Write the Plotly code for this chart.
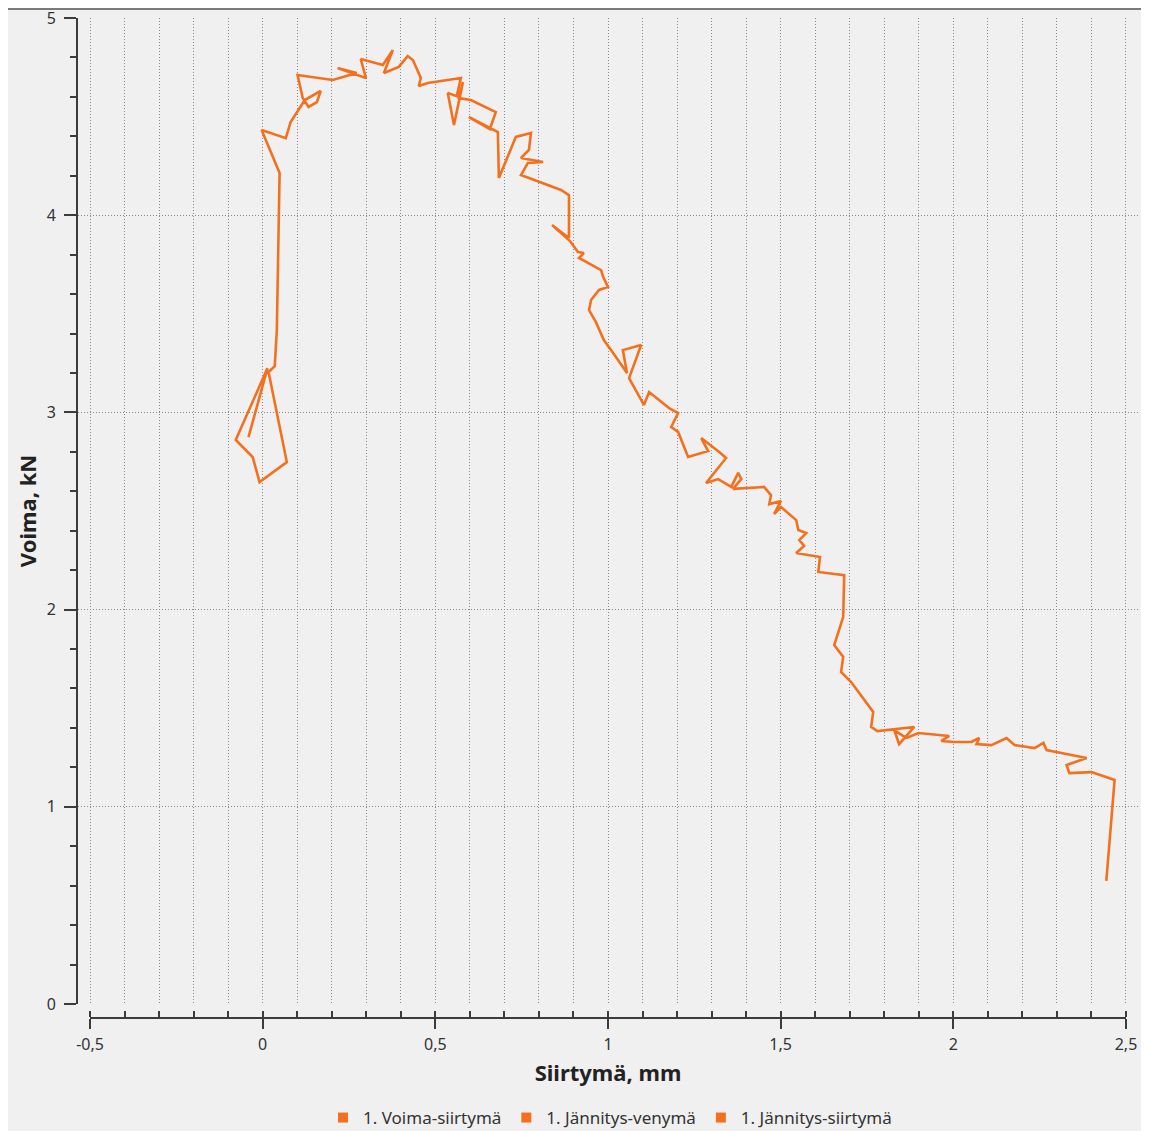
import plotly.graph_objects as go

# Displacement (mm) and force (kN)
siirtyma_mm = [
    -0.041, 0.014, -0.078, -0.029, -0.009, 0.070, 0.017, 0.035, 0.041, 0.046,
    0.049, -0.003, 0.067, 0.081, 0.122, 0.168, 0.157, 0.133, 0.116, 0.101,
    0.203, 0.272, 0.217, 0.299, 0.284, 0.348, 0.377, 0.351, 0.394, 0.420,
    0.435, 0.458, 0.452, 0.478, 0.574, 0.562, 0.536, 0.554, 0.580, 0.568,
    0.603, 0.675, 0.658, 0.597, 0.681, 0.684, 0.733, 0.777, 0.771, 0.748,
    0.812, 0.768, 0.748, 0.864, 0.887, 0.887, 0.838, 0.890, 0.913, 0.930,
    0.916, 0.980, 0.986, 1.000, 0.974, 0.951, 0.945, 0.965, 0.988, 1.023,
    1.055, 1.043, 1.096, 1.061, 1.104, 1.119, 1.177, 1.203, 1.183, 1.203,
    1.232, 1.290, 1.270, 1.322, 1.342, 1.284, 1.319, 1.357, 1.377, 1.386,
    1.362, 1.452, 1.472, 1.467, 1.501, 1.481, 1.501, 1.545, 1.551, 1.574,
    1.554, 1.568, 1.545, 1.614, 1.609, 1.684, 1.681, 1.655, 1.681, 1.675,
    1.704, 1.768, 1.762, 1.780, 1.887, 1.843, 1.829, 1.864, 1.899, 1.988,
    1.965, 2.003, 2.052, 2.075, 2.067, 2.110, 2.154, 2.177, 2.235, 2.261,
    2.270, 2.313, 2.386, 2.328, 2.336, 2.400, 2.467, 2.443,
]
voima_kN = [
    2.875, 3.225, 2.860, 2.774, 2.647, 2.748, 3.205, 3.235, 3.418, 3.824,
    4.214, 4.432, 4.391, 4.473, 4.584, 4.630, 4.574, 4.549, 4.594, 4.711,
    4.686, 4.721, 4.746, 4.696, 4.792, 4.762, 4.838, 4.721, 4.752, 4.807,
    4.787, 4.696, 4.655, 4.670, 4.696, 4.604, 4.620, 4.457, 4.675, 4.594,
    4.584, 4.523, 4.437, 4.498, 4.422, 4.189, 4.397, 4.417, 4.331, 4.290,
    4.270, 4.265, 4.204, 4.128, 4.102, 3.884, 3.950, 3.869, 3.813, 3.808,
    3.783, 3.722, 3.687, 3.636, 3.621, 3.570, 3.519, 3.458, 3.367, 3.281,
    3.200, 3.316, 3.342, 3.174, 3.038, 3.103, 3.022, 2.997, 2.926, 2.901,
    2.774, 2.804, 2.870, 2.799, 2.769, 2.642, 2.662, 2.622, 2.693, 2.662,
    2.612, 2.622, 2.581, 2.535, 2.551, 2.485, 2.520, 2.454, 2.404, 2.388,
    2.353, 2.323, 2.287, 2.267, 2.191, 2.175, 1.962, 1.820, 1.760, 1.684,
    1.633, 1.481, 1.405, 1.384, 1.405, 1.318, 1.389, 1.349, 1.374, 1.359,
    1.334, 1.329, 1.329, 1.349, 1.318, 1.313, 1.349, 1.313, 1.298, 1.324,
    1.288, 1.273, 1.247, 1.212, 1.171, 1.176, 1.136, 0.624,
]

series_names = ["1. Voima-siirtymä", "1. Jännitys-venymä", "1. Jännitys-siirtymä"]
x_tick_vals = [-0.5, 0, 0.5, 1, 1.5, 2, 2.5]
x_tick_text = ["-0,5", "0", "0,5", "1", "1,5", "2", "2,5"]
y_tick_vals = [0, 1, 2, 3, 4, 5]
y_tick_text = ["0", "1", "2", "3", "4", "5"]

ORANGE = "#f3701f"
FONT = "Noto Sans"
OFF = 8                      # page body margin: figure is drawn at (8, 8)
W, H = 1152 - OFF, 1131 - OFF
ML, MR, MT, MB = 78 - OFF, 12, 18 - OFF, 113
plot_w = W - ML - MR
plot_h = H - MT - MB
GRID = "#8a8a8a"
AXC = "#3c3c3c"

fig = go.Figure()

fig.add_trace(go.Scatter(
    x=siirtyma_mm, y=voima_kN, mode="lines",
    line=dict(color=ORANGE, width=2.6),
    name=series_names[0], showlegend=False, xaxis="x", yaxis="y",
))
# dummy trace so the visible x axis (x2) gets drawn
fig.add_trace(go.Scatter(x=[None], y=[None], mode="markers", showlegend=False,
                         hoverinfo="skip", xaxis="x2", yaxis="y"))
for nm in series_names:
    fig.add_trace(go.Scatter(
        x=[None], y=[None], mode="markers", name=nm,
        marker=dict(symbol="square", size=10, color=ORANGE),
        xaxis="x", yaxis="y",
    ))

# helpers: page pixel -> paper fraction
def px_x(px):
    return (px - OFF - ML) / plot_w

def px_y(py):
    return (H - MB - (py - OFF)) / plot_h

x_left = -0.5 - (90 - 78) / 345.2
x_right = 2.5 + (1140 - 1126) / 345.2

fig.update_layout(
    width=W, height=H,
    margin=dict(l=ML, r=MR, t=MT, b=MB, autoexpand=False),
    paper_bgcolor="white",
    plot_bgcolor="rgba(0,0,0,0)",
    separators=", ",
    font=dict(family=FONT, size=16, color="#333333"),
    xaxis=dict(
        range=[x_left, x_right], domain=[0, 1],
        showgrid=True, gridcolor=GRID, griddash="1px,2px", gridwidth=1,
        tick0=0, dtick=0.1, showticklabels=False, ticks="",
        showline=False, zeroline=False, automargin=False,
    ),
    xaxis2=dict(
        range=[-0.5, 2.5], domain=[px_x(90), px_x(1126)],
        anchor="free", position=0, automargin=False,
        showgrid=False, zeroline=False,
        showline=True, linecolor=AXC, linewidth=2,
        tickmode="array", tickvals=x_tick_vals, ticktext=x_tick_text,
        ticks="outside", ticklen=10, tickwidth=1.5, tickcolor=AXC,
        ticklabelstandoff=2, ticklabeloverflow="allow",
        minor=dict(tickmode="linear", tick0=0, dtick=0.1, ticks="inside",
                   ticklen=6, tickwidth=1.5, tickcolor=AXC, showgrid=False),
        tickfont=dict(family=FONT, size=16, color="#333333"),
        title=dict(text="Siirtymä, mm", standoff=10,
                   font=dict(family=FONT, size=22, color="#222222", weight="bold")),
    ),
    yaxis=dict(
        range=[0, 5.0001], domain=[px_y(1004), 1], automargin=False,
        showgrid=True, gridcolor=GRID, griddash="1px,2px", gridwidth=1,
        zeroline=False,
        showline=True, linecolor=AXC, linewidth=2,
        tickmode="array", tickvals=y_tick_vals, ticktext=y_tick_text,
        ticks="outside", ticklen=12, tickwidth=1.5, tickcolor=AXC,
        ticklabelstandoff=5, ticklabeloverflow="allow",
        minor=dict(tickmode="linear", tick0=0, dtick=0.2, ticks="outside",
                   ticklen=6, tickwidth=1.5, tickcolor=AXC, showgrid=False),
        tickfont=dict(family=FONT, size=16, color="#333333"),
        title=dict(text="Voima, kN", standoff=4,
                   font=dict(family=FONT, size=22, color="#222222", weight="bold")),
    ),
    legend=dict(
        orientation="h", xref="container", yref="container",
        xanchor="center", x=(610 - OFF) / W,
        yanchor="middle", y=1 - (1118 - OFF) / H,
        font=dict(family=FONT, size=17, color="#333333"),
        bgcolor="rgba(0,0,0,0)", itemwidth=30, tracegroupgap=0,
    ),
    shapes=[
        dict(type="rect", xref="paper", yref="paper", layer="below",
             x0=px_x(0), x1=px_x(1141), y0=px_y(1140), y1=px_y(9),
             fillcolor="#f0f0f0", line=dict(width=0)),
        dict(type="line", xref="paper", yref="paper", layer="above",
             x0=px_x(0), x1=px_x(1141), y0=px_y(9), y1=px_y(9),
             line=dict(color="#7a7a7a", width=2)),
    ],
)

fig.write_html("out.html")
